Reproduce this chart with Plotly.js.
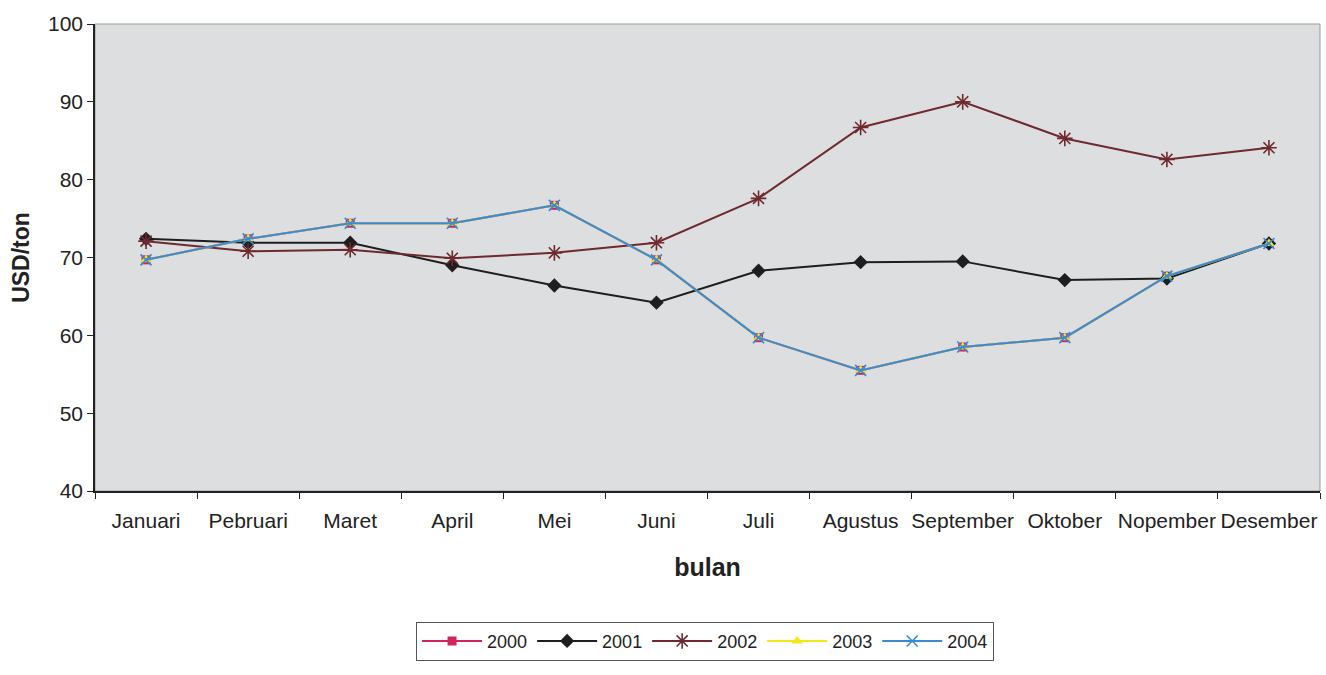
<!DOCTYPE html>
<html>
<head>
<meta charset="utf-8">
<script src="https://cdn.plot.ly/plotly-3.0.1.min.js"></script>
<style>
  html, body { margin: 0; padding: 0; background: #ffffff; }
  #chart { width: 1326px; height: 675px; }
</style>
</head>
<body>
<div id="chart"></div>
<script>
const months = ["Januari","Pebruari","Maret","April","Mei","Juni","Juli","Agustus","September","Oktober","Nopember","Desember"];
const y2000 = [69.7, 72.4, 74.4, 74.4, 76.7, 69.7, 59.7, 55.5, 58.5, 59.7, 67.6, 71.8];
const y2001 = [72.4, 71.9, 71.9, 69.0, 66.4, 64.2, 68.3, 69.4, 69.5, 67.1, 67.3, 71.8];
const y2002 = [72.1, 70.8, 71.0, 69.9, 70.6, 71.9, 77.6, 86.7, 90.0, 85.3, 82.6, 84.1];
const y2003 = [69.7, 72.4, 74.4, 74.4, 76.7, 69.7, 59.7, 55.5, 58.5, 59.7, 67.6, 71.8];
const y2004 = [69.7, 72.4, 74.4, 74.4, 76.7, 69.7, 59.7, 55.5, 58.5, 59.7, 67.6, 71.8];
const seriesNames = ["2000","2001","2002","2003","2004"];

const traces = [
  {x: months, y: y2000, name: seriesNames[0], type: "scatter", mode: "lines+markers",
   line: {color: "#d0245e", width: 2}, marker: {symbol: "square", size: 9, color: "#d0245e"}},
  {x: months, y: y2001, name: seriesNames[1], type: "scatter", mode: "lines+markers",
   line: {color: "#1e1e1e", width: 2}, marker: {symbol: "diamond", size: 11, color: "#1e1e1e"}},
  {x: months, y: y2002, name: seriesNames[2], type: "scatter", mode: "lines+markers",
   line: {color: "#6e2a2e", width: 2}, marker: {symbol: "asterisk-open", size: 13, color: "#6e2a2e", line: {color: "#6e2a2e", width: 1.6}}},
  {x: months, y: y2003, name: seriesNames[3], type: "scatter", mode: "lines+markers",
   line: {color: "#f5e617", width: 2}, marker: {symbol: "triangle-up", size: 10, color: "#f5e617"}},
  {x: months, y: y2004, name: seriesNames[4], type: "scatter", mode: "lines+markers",
   line: {color: "#3a8ad6", width: 2}, marker: {symbol: "x-thin-open", size: 11, color: "#3a8ad6", line: {color: "#3a8ad6", width: 1.6}}}
];

const layout = {
  width: 1326, height: 675,
  margin: {l: 95, r: 6, t: 24, b: 184},
  paper_bgcolor: "#ffffff",
  plot_bgcolor: "#dcdedf",
  font: {family: "Liberation Sans, Arial, sans-serif", color: "#222222", size: 20},
  showlegend: true,
  legend: {
    orientation: "h", x: 0.498, xanchor: "center", y: -0.28, yanchor: "top",
    bordercolor: "#555555", borderwidth: 1, bgcolor: "#ffffff",
    font: {size: 18, color: "#222222"}, traceorder: "normal",
    itemwidth: 60
  },
  xaxis: {
    type: "category",
    range: [-0.5, 11.5],
    tickson: "boundaries",
    tickangle: 0,
    ticks: "outside", ticklen: 6, tickcolor: "#222222",
    ticklabelstandoff: 10,
    showline: true, linecolor: "#222222", linewidth: 1.5,
    showgrid: false, zeroline: false,
    tickfont: {size: 21, color: "#222222"},
    title: {text: "bulan", font: {size: 25, color: "#222222", family: "Liberation Sans, Arial, sans-serif", weight: "bold"}, standoff: 28}
  },
  yaxis: {
    range: [40, 100], dtick: 10, tick0: 40,
    ticks: "outside", ticklen: 6, tickcolor: "#222222",
    showline: true, linecolor: "#222222", linewidth: 1.5,
    showgrid: false, zeroline: false,
    tickfont: {size: 21, color: "#222222"},
    title: {text: "USD/ton", font: {size: 23, color: "#222222", family: "Liberation Sans, Arial, sans-serif", weight: "bold"}, standoff: 12}
  },
  shapes: [
    {type: "rect", xref: "paper", yref: "paper", x0: 0, x1: 1, y0: 0, y1: 1,
     line: {color: "#999999", width: 1}, fillcolor: "rgba(0,0,0,0)", layer: "below"}
  ]
};

Plotly.newPlot("chart", traces, layout, {displayModeBar: false, responsive: false});
</script>
</body>
</html>
